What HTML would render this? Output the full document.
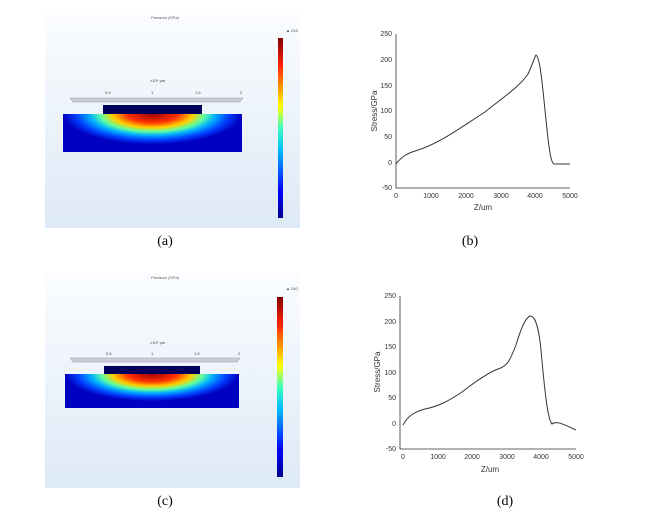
<!DOCTYPE html><html><head><style>body{margin:0;background:#fff}svg{display:block}text{font-family:"Liberation Sans",sans-serif}text.lab{font-family:"Liberation Serif",serif}</style></head><body>
<svg width="650" height="514" viewBox="0 0 650 514" xmlns="http://www.w3.org/2000/svg">
<defs>
<linearGradient id="bg" x1="0" y1="0" x2="0" y2="1"><stop offset="0" stop-color="#fbfdff"/><stop offset="1" stop-color="#dde9f6"/></linearGradient>
<linearGradient id="cb" x1="0" y1="1" x2="0" y2="0"><stop offset="0" stop-color="#00008f"/><stop offset="0.15" stop-color="#0000ff"/><stop offset="0.38" stop-color="#00bfff"/><stop offset="0.5" stop-color="#40ffbf"/><stop offset="0.62" stop-color="#ffff00"/><stop offset="0.85" stop-color="#ff2000"/><stop offset="1" stop-color="#800000"/></linearGradient>
<radialGradient id="fld" cx="0.5" cy="0" r="0.5" gradientTransform="translate(0.5 0) scale(1 1.6) translate(-0.5 0)"><stop offset="0" stop-color="#a00000"/><stop offset="0.28" stop-color="#ff3000"/><stop offset="0.45" stop-color="#ffd000"/><stop offset="0.58" stop-color="#60ffa0"/><stop offset="0.7" stop-color="#00b0ff"/><stop offset="0.85" stop-color="#0040ff"/><stop offset="1" stop-color="#0000c0"/></radialGradient>
</defs>
<!-- panel a -->
<rect x="45" y="13" width="255" height="215" fill="url(#bg)"/>
<text x="165" y="19" font-size="4" text-anchor="middle" fill="#555">Pressure (GPa)</text>
<rect x="63" y="114" width="179" height="38" fill="#00008f"/>
<rect x="63" y="114" width="179" height="38" fill="url(#fld)"/>
<rect x="103" y="105" width="99" height="9" fill="#00005a"/>
<path d="M70 98 L243 98 L240 102 L73 102 Z" fill="#ccd" stroke="#999" stroke-width="0.5"/>
<rect x="278" y="38" width="5" height="180" fill="url(#cb)"/>
<text x="286" y="32" font-size="4" fill="#444">▲ 215</text>
<text x="150" y="82" font-size="4" fill="#444">×10⁴ μm</text>
<g font-size="4" fill="#444"><text x="105" y="94">0.5</text><text x="151" y="94">1</text><text x="195" y="94">1.5</text><text x="240" y="94">2</text></g>
<!-- panel c -->
<rect x="45" y="273" width="255" height="215" fill="url(#bg)"/>
<text x="165" y="279" font-size="4" text-anchor="middle" fill="#555">Pressure (GPa)</text>
<rect x="65" y="374" width="174" height="34" fill="#00008f"/>
<rect x="65" y="374" width="174" height="34" fill="url(#fld)"/>
<rect x="104" y="366" width="96" height="8" fill="#00005a"/>
<path d="M70 358 L240 358 L237 362 L73 362 Z" fill="#ccd" stroke="#999" stroke-width="0.5"/>
<rect x="277" y="297" width="6" height="180" fill="url(#cb)"/>
<text x="286" y="290" font-size="4" fill="#444">▲ 240</text>
<text x="150" y="344" font-size="4" fill="#444">×10⁴ μm</text>
<g font-size="4" fill="#444"><text x="106" y="355">0.5</text><text x="151" y="355">1</text><text x="194" y="355">1.5</text><text x="238" y="355">2</text></g>
<!-- labels -->
<g font-size="14" text-anchor="middle" fill="#000">
<text class="lab" x="165" y="245">(a)</text><text class="lab" x="470" y="245">(b)</text>
<text class="lab" x="165" y="505">(c)</text><text class="lab" x="505" y="505">(d)</text></g>
<!-- chart b -->
<g font-size="7" fill="#333" stroke="none">
<path d="M396 34 V188 H570" fill="none" stroke="#333" stroke-width="0.8"/>
<g text-anchor="end"><text x="392" y="36">250</text><text x="392" y="62">200</text><text x="392" y="88">150</text><text x="392" y="113">100</text><text x="392" y="139">50</text><text x="392" y="165">0</text><text x="392" y="190">-50</text></g>
<g text-anchor="middle"><text x="396" y="198">0</text><text x="431" y="198">1000</text><text x="466" y="198">2000</text><text x="501" y="198">3000</text><text x="535" y="198">4000</text><text x="570" y="198">5000</text></g>
<text x="483" y="210" font-size="8" text-anchor="middle">Z/um</text>
<text transform="translate(377 111) rotate(-90)" font-size="8" text-anchor="middle">Stress/GPa</text>
</g>
<path d="M396 164 C402 156,408 153,418 150 C440 143,460 128,485 112 C505 96,520 86,528 74 C532 66,534 58,536 55 C540 58,542 80,546 120 C549 150,551 163,554 164 L570 164" fill="none" stroke="#333" stroke-width="1"/>
<!-- chart d -->
<g font-size="7" fill="#333">
<path d="M400 296 V449 H576" fill="none" stroke="#333" stroke-width="0.8"/>
<g text-anchor="end"><text x="396" y="298">250</text><text x="396" y="324">200</text><text x="396" y="349">150</text><text x="396" y="375">100</text><text x="396" y="400">50</text><text x="396" y="426">0</text><text x="396" y="451">-50</text></g>
<g text-anchor="middle"><text x="403" y="459">0</text><text x="438" y="459">1000</text><text x="472" y="459">2000</text><text x="507" y="459">3000</text><text x="541" y="459">4000</text><text x="576" y="459">5000</text></g>
<text x="490" y="472" font-size="8" text-anchor="middle">Z/um</text>
<text transform="translate(380 372) rotate(-90)" font-size="8" text-anchor="middle">Stress/GPa</text>
</g>
<path d="M403 425 C408 416,414 412,425 409 C440 406,450 400,462 392 C480 378,490 372,498 369 C508 366,510 360,516 345 C522 325,526 318,530 316 C536 316,539 330,541 350 C545 395,548 420,552 424 C556 420,565 425,576 430" fill="none" stroke="#333" stroke-width="1"/>
</svg></body></html>
